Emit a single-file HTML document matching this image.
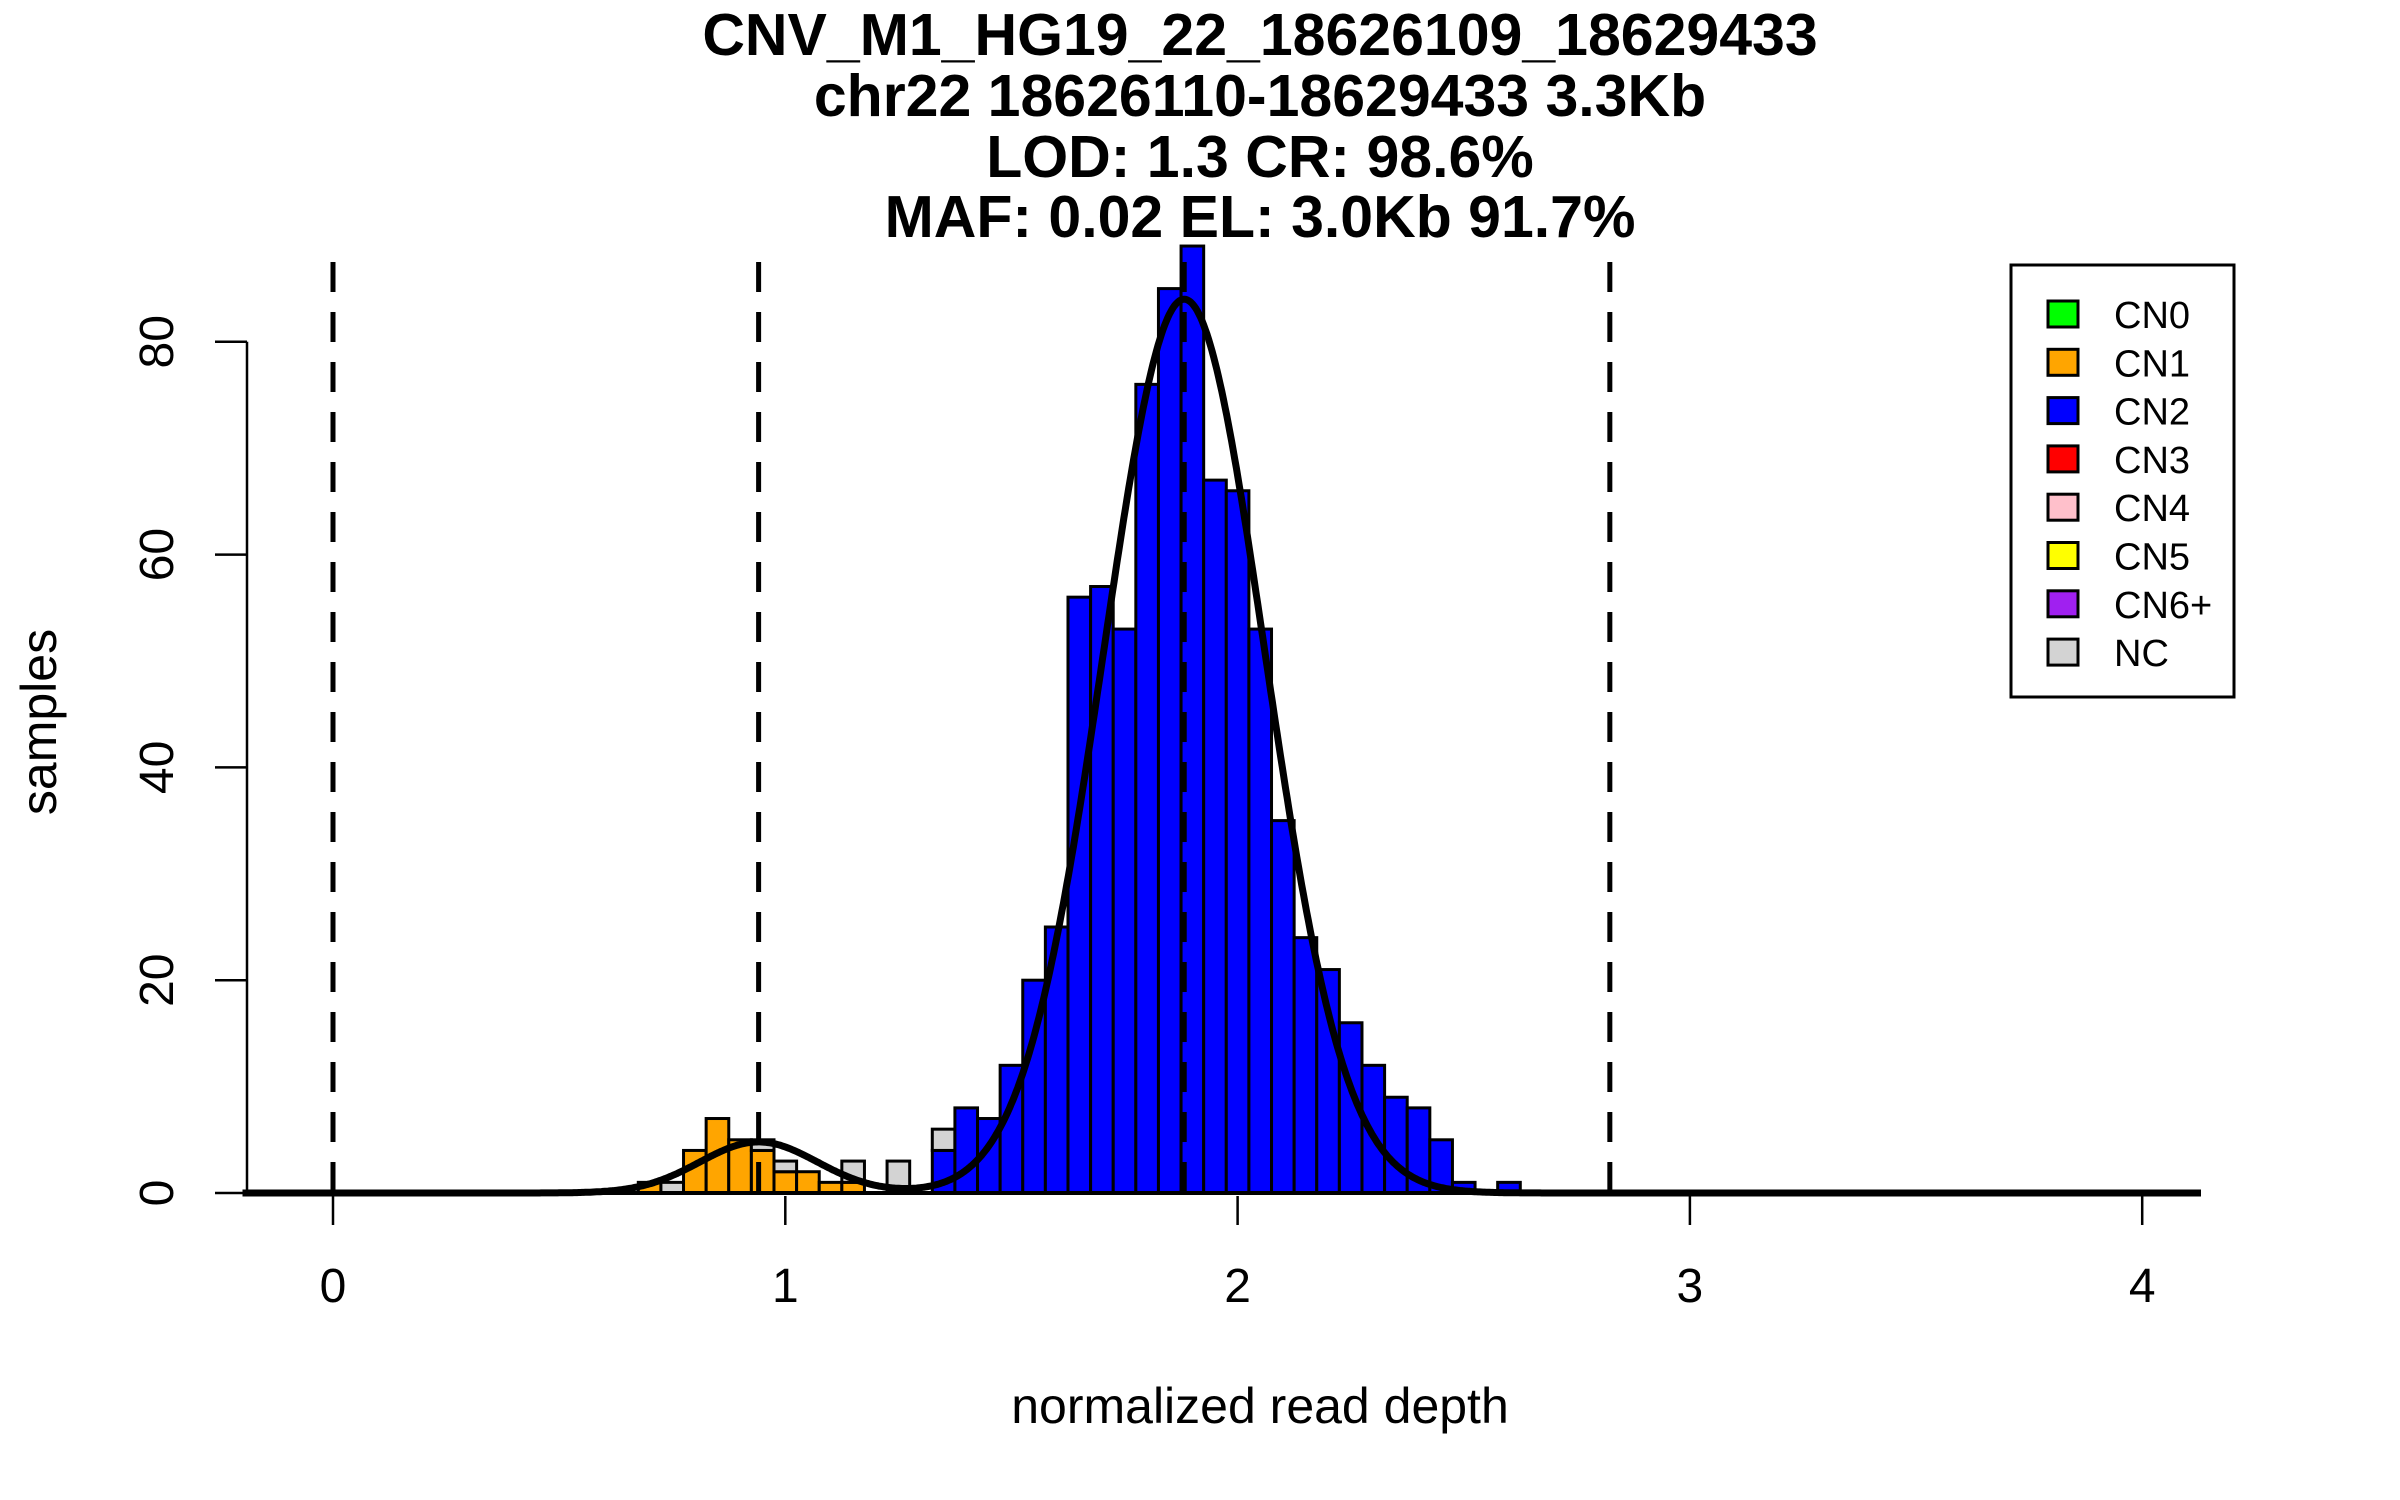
<!DOCTYPE html>
<html><head><meta charset="utf-8"><style>
html,body{margin:0;padding:0;background:#fff;}
svg{display:block;font-family:"Liberation Sans",Arial,sans-serif;}
</style></head><body>
<svg id="chart" width="2400" height="1500" viewBox="0 0 2400 1500" xmlns="http://www.w3.org/2000/svg">
<g id="title" font-weight="bold" font-size="59" text-anchor="middle" fill="#000">
<text x="1260" y="55">CNV_M1_HG19_22_18626109_18629433</text>
<text x="1260" y="116">chr22 18626110-18629433 3.3Kb</text>
<text x="1260" y="177">LOD: 1.3 CR: 98.6%</text>
<text x="1260" y="237">MAF: 0.02 EL: 3.0Kb 91.7%</text>
</g>
<g id="bars"></g>
<g id="curves"></g>
<g id="dashes"></g>
<g id="axes"></g>
<text x="1260" y="1423" font-size="50" text-anchor="middle">normalized read depth</text>
<text transform="translate(56,722) rotate(-90)" font-size="50" text-anchor="middle">samples</text>
<g id="legend">
<rect x="2011" y="265" width="223" height="432" fill="#fff" stroke="#000" stroke-width="3"/>
</g>
</svg>
<script>
// ---- data ----
const binStarts = [0.675,0.725,0.775,0.825,0.875,0.925,0.975,1.025,1.075,1.125,1.175,1.225,1.275,1.325,1.375,1.425,1.475,1.525,1.575,1.625,1.675,1.725,1.775,1.825,1.875,1.925,1.975,2.025,2.075,2.125,2.175,2.225,2.275,2.325,2.375,2.425,2.475,2.525,2.575];
const cn1Counts = [1,0,4,7,5,4,2,2,1,1,0,0,0,0,0,0,0,0,0,0,0,0,0,0,0,0,0,0,0,0,0,0,0,0,0,0,0,0,0];
const cn2Counts = [0,0,0,0,0,0,0,0,0,0,0,0,0,4,8,7,12,20,25,56,57,53,76,85,89,67,66,53,35,24,21,16,12,9,8,5,1,0,1];
const ncCounts  = [0,1,0,0,0,1,1,0,0,2,0,3,0,2,0,0,0,0,0,0,0,0,0,0,0,0,0,0,0,0,0,0,0,0,0,0,0,0,0];
const binWidth = 0.05;
const curveMeans = [0.941, 1.882];
const curveSds = [0.13, 0.178];
const curvePeaks = [4.8, 84];
const guideLines = [0, 0.941, 1.882, 2.823];
const xTicks = [0,1,2,3,4];
const yTicks = [0,20,40,60,80];
const legendLabels = ["CN0","CN1","CN2","CN3","CN4","CN5","CN6+","NC"];
const legendColors = ["#00ff00","#ffa500","#0000ff","#ff0000","#ffc0cb","#ffff00","#a020f0","#d3d3d3"];

// ---- scales ----
const X = v => 333 + v * 452.3;
const Y = v => 1193 - v * 10.64;
const NS = "http://www.w3.org/2000/svg";
function mk(tag, attrs, parent){
  const e = document.createElementNS(NS, tag);
  for (const k in attrs) e.setAttribute(k, attrs[k]);
  parent.appendChild(e); return e;
}
const bars = document.getElementById('bars');
binStarts.forEach((b, i) => {
  const x0 = X(b), w = X(b + binWidth) - X(b);
  const layers = [[cn2Counts[i], '#0000ff', 'cn2'], [cn1Counts[i], '#ffa500', 'cn1'], [ncCounts[i], '#d3d3d3', 'nc']];
  let acc = 0;
  layers.forEach(([c, col, nm]) => {
    if (c <= 0) return;
    const r = mk('rect', {x:x0, y:Y(acc + c), width:w, height:Y(acc) - Y(acc + c), fill:col, stroke:'#000', 'stroke-width':3}, bars);
    
    
    acc += c;
  });
});
// curves
const curves = document.getElementById('curves');
let d = '';
for (let i = 0; i <= 1200; i++) {
  const v = -0.2 + i * (4.13 + 0.2) / 1200;
  let s = 0;
  curveMeans.forEach((m, k) => { s += curvePeaks[k] * Math.exp(-0.5 * Math.pow((v - m) / curveSds[k], 2)); });
  d += (i ? 'L' : 'M') + X(v).toFixed(1) + ' ' + Y(s).toFixed(1);
}
const cp = mk('path', {d:d, fill:'none', stroke:'#000', 'stroke-width':7, 'stroke-linejoin':'round'}, curves);


// guides
const dashes = document.getElementById('dashes');
guideLines.forEach(g => {
  const l = mk('line', {x1:X(g), x2:X(g), y1:Y(87.5), y2:Y(0), stroke:'#000', 'stroke-width':5, 'stroke-dasharray':'30 20'}, dashes);
  
  
});
// axes
const axes = document.getElementById('axes');
const ya = mk('line', {x1:247, x2:247, y1:Y(80), y2:Y(0), stroke:'#000', 'stroke-width':2.5}, axes);


yTicks.forEach(t => {
  const tk = mk('line', {x1:215, x2:247, y1:Y(t), y2:Y(t), stroke:'#000', 'stroke-width':2.5}, axes);
  
  
  const tx = mk('text', {transform:'translate(173,' + Y(t) + ') rotate(-90)', 'font-size':48, 'text-anchor':'middle'}, axes);
  tx.textContent = t;
  
  
});
const xa = mk('line', {x1:247, x2:2200, y1:Y(0), y2:Y(0), stroke:'#000', 'stroke-width':4}, axes);


xTicks.forEach(t => {
  const tk = mk('line', {x1:X(t), x2:X(t), y1:1196, y2:1225, stroke:'#000', 'stroke-width':2.5}, axes);
  
  
  const tx = mk('text', {x:X(t), y:1302, 'font-size':48, 'text-anchor':'middle'}, axes);
  tx.textContent = t;
  
  
});
// legend
const lg = document.getElementById('legend');
legendLabels.forEach((lab, i) => {
  const cy = 314 + i * 48.3;
  const sw = mk('rect', {x:2048, y:cy - 13, width:30, height:26, fill:legendColors[i], stroke:'#000', 'stroke-width':3}, lg);
  
  
  const tx = mk('text', {x:2114, y:cy + 14, 'font-size':38}, lg);
  tx.textContent = lab;
  
  
});
</script>
</body></html>
